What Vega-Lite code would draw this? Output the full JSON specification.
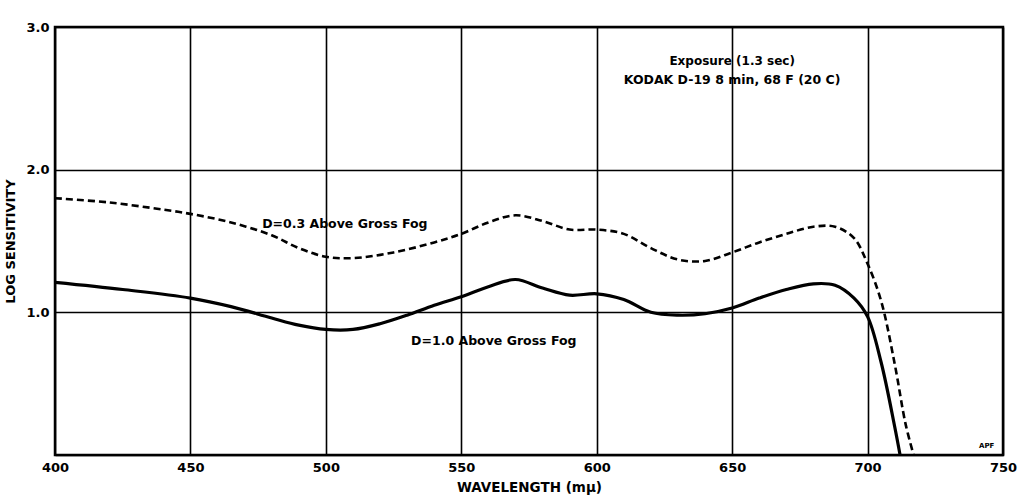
{
  "$schema": "https://vega.github.io/schema/vega-lite/v6.json",
  "autosize": "none",
  "width": 948,
  "height": 428,
  "padding": {"left": 55, "top": 27, "right": 22, "bottom": 45},
  "background": "white",
  "config": {
    "font": "DejaVu Sans",
    "view": {"stroke": "black", "strokeWidth": 2.5},
    "axis": {"labelFont": "DejaVu Sans", "titleFont": "DejaVu Sans", "labelFontWeight": "bold", "titleFontWeight": "bold", "labelColor": "black", "titleColor": "black"}
  },
  "datasets": {
    "d03": [
      {"wl": 400, "s": 1.80}, {"wl": 420, "s": 1.77}, {"wl": 440, "s": 1.72}, {"wl": 450, "s": 1.69},
      {"wl": 465, "s": 1.63}, {"wl": 480, "s": 1.54}, {"wl": 490, "s": 1.45}, {"wl": 500, "s": 1.39},
      {"wl": 510, "s": 1.38}, {"wl": 525, "s": 1.42}, {"wl": 540, "s": 1.49}, {"wl": 550, "s": 1.55},
      {"wl": 560, "s": 1.63}, {"wl": 570, "s": 1.68}, {"wl": 580, "s": 1.64}, {"wl": 590, "s": 1.58},
      {"wl": 600, "s": 1.58}, {"wl": 610, "s": 1.55}, {"wl": 620, "s": 1.45}, {"wl": 630, "s": 1.37},
      {"wl": 640, "s": 1.36}, {"wl": 650, "s": 1.42}, {"wl": 660, "s": 1.49}, {"wl": 670, "s": 1.55},
      {"wl": 680, "s": 1.60}, {"wl": 688, "s": 1.60}, {"wl": 695, "s": 1.52}, {"wl": 700, "s": 1.34},
      {"wl": 705, "s": 1.08}, {"wl": 710, "s": 0.64}, {"wl": 714, "s": 0.22}, {"wl": 717, "s": 0}
    ],
    "d10": [
      {"wl": 400, "s": 1.21}, {"wl": 425, "s": 1.16}, {"wl": 450, "s": 1.10}, {"wl": 465, "s": 1.04},
      {"wl": 480, "s": 0.96}, {"wl": 490, "s": 0.91}, {"wl": 500, "s": 0.88}, {"wl": 510, "s": 0.88},
      {"wl": 520, "s": 0.92}, {"wl": 530, "s": 0.98}, {"wl": 540, "s": 1.05}, {"wl": 550, "s": 1.11},
      {"wl": 560, "s": 1.18}, {"wl": 570, "s": 1.23}, {"wl": 580, "s": 1.17}, {"wl": 590, "s": 1.12},
      {"wl": 600, "s": 1.13}, {"wl": 610, "s": 1.09}, {"wl": 620, "s": 1.00}, {"wl": 630, "s": 0.98},
      {"wl": 640, "s": 0.99}, {"wl": 650, "s": 1.03}, {"wl": 660, "s": 1.10}, {"wl": 670, "s": 1.16},
      {"wl": 680, "s": 1.20}, {"wl": 688, "s": 1.19}, {"wl": 695, "s": 1.10}, {"wl": 700, "s": 0.97},
      {"wl": 705, "s": 0.65}, {"wl": 710, "s": 0.20}, {"wl": 712, "s": 0}
    ],
    "notes": [
      {"wl": 650, "s": 2.76, "label": "Exposure (1.3 sec)", "size": 12},
      {"wl": 650, "s": 2.63, "label": "KODAK D-19  8 min, 68 F (20 C)", "size": 12.5},
      {"wl": 507, "s": 1.62, "label": "D=0.3 Above Gross Fog", "size": 12.5},
      {"wl": 562, "s": 0.80, "label": "D=1.0 Above Gross Fog", "size": 12.5},
      {"wl": 744, "s": 0.06, "label": "APF", "size": 7}
    ]
  },
  "layer": [
    {
      "data": {"name": "d03"},
      "mark": {"type": "line", "color": "black", "strokeWidth": 2.6, "strokeDash": [7, 4], "interpolate": "catmull-rom", "clip": true},
      "encoding": {
        "x": {"field": "wl", "type": "quantitative", "scale": {"domain": [400, 750], "nice": false},
          "axis": {"values": [400, 450, 500, 550, 600, 650, 700, 750], "title": "WAVELENGTH (mμ)", "titleFontSize": 13.5, "titlePadding": 6, "labelFontSize": 13, "labelPadding": 6, "labelFlush": false, "grid": true, "gridColor": "black", "gridWidth": 1.6, "gridOpacity": 1, "domain": false, "ticks": false}},
        "y": {"field": "s", "type": "quantitative", "scale": {"domain": [0, 3], "nice": false},
          "axis": {"values": [0, 1, 2, 3], "labelExpr": "datum.value == 0 ? '' : format(datum.value, '.1f')", "title": "LOG SENSITIVITY", "titleFontSize": 13, "titlePadding": 8, "labelFontSize": 13, "labelPadding": 6, "labelFlush": false, "grid": true, "gridColor": "black", "gridWidth": 1.6, "gridOpacity": 1, "domain": false, "ticks": false}}
      }
    },
    {
      "data": {"name": "d10"},
      "mark": {"type": "line", "color": "black", "strokeWidth": 3.2, "interpolate": "catmull-rom", "clip": true},
      "encoding": {
        "x": {"field": "wl", "type": "quantitative"},
        "y": {"field": "s", "type": "quantitative"}
      }
    },
    {
      "data": {"name": "notes"},
      "mark": {"type": "text", "color": "black", "fontWeight": "bold", "align": "center", "baseline": "middle"},
      "encoding": {
        "x": {"field": "wl", "type": "quantitative"},
        "y": {"field": "s", "type": "quantitative"},
        "text": {"field": "label"},
        "size": {"field": "size", "type": "quantitative", "scale": null}
      }
    }
  ]
}
